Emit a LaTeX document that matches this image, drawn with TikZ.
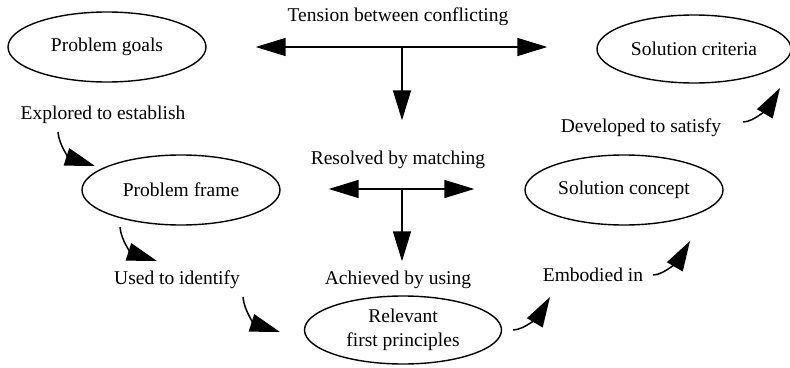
\documentclass[tikz,border=0pt]{standalone}
\usepackage{fontspec}
\setmainfont{Liberation Serif}
\usetikzlibrary{arrows.meta,shapes.geometric}
\begin{document}
\begin{tikzpicture}[x=1pt,y=-1pt,
  font=\fontsize{19.5}{23.5}\selectfont,
  oval/.style={draw, ellipse, line width=1.4pt, inner sep=0pt,
    minimum width=198pt, minimum height=70pt, align=center},
  lbl/.style={inner sep=0pt, text height=13pt, text depth=4pt},
  link/.style={line width=1.5pt, -{Triangle[length=30pt,width=18pt]}},
]
\useasboundingbox (0,0) rectangle (790,367);

% ellipses
\node[oval] (goals) at (107,47) {Problem goals};
\node[oval, minimum width=194pt, minimum height=68pt] (criteria) at (694,49) {Solution criteria};
\node[oval] (frame) at (181,190) {Problem frame};
\node[oval] (concept) at (624,190) {Solution concept};
\node[oval, minimum width=197pt, minimum height=68pt] (principles) at (403,330)
  {Relevant\\first principles};

% labels
\node[lbl] (tension) at (398,17) {Tension between conflicting};
\node[lbl] (resolved) at (398,160) {Resolved by matching};
\node[lbl] (achieved) at (398,280) {Achieved by using};
\node[lbl] (explored) at (103,115) {Explored to establish};
\node[lbl] (used) at (177,280) {Used to identify};
\node[lbl] (embodied) at (593,277) {Embodied in};
\node[lbl] (developed) at (641,128) {Developed to satisfy};

% junctions of the straight arrows
\coordinate (hubtop) at (402,47);
\coordinate (hubmid) at (402,189);

\draw[link, shorten >=49pt] (hubtop) -- (hubtop -| goals.east);
\draw[link, shorten >=49pt] (hubtop) -- (hubtop -| criteria.west);
\draw[link, shorten >=31pt] (hubtop) -- (hubtop |- resolved.north);

\draw[link, shorten >=48pt] (hubmid) -- (hubmid -| frame.east);
\draw[link, shorten >=50pt] (hubmid) -- (hubmid -| concept.west);
\draw[link, shorten >=10pt] (hubmid) -- (hubmid |- achieved.north);

% curved arrows
\coordinate (e1s) at (58,132);  \coordinate (e1t) at (95,166);
\coordinate (e2s) at (120,227); \coordinate (e2t) at (157,261);
\coordinate (e3s) at (243,297); \coordinate (e3t) at (280,332);
\coordinate (e4s) at (513,330); \coordinate (e4t) at (550,297);
\coordinate (e5s) at (653,275); \coordinate (e5t) at (690,241);
\coordinate (e6s) at (743,122); \coordinate (e6t) at (780,88);

\draw[link] (e1s) .. controls +(1,14) and +(-25,-8) .. (e1t);
\draw[link] (e2s) .. controls +(1,14) and +(-25,-8) .. (e2t);
\draw[link] (e3s) .. controls +(1,14) and +(-25,-8) .. (e3t);
\draw[link] (e4s) .. controls +(12,0) and +(-10,17) .. (e4t);
\draw[link] (e5s) .. controls +(12,0) and +(-10,17) .. (e5t);
\draw[link] (e6s) .. controls +(12,0) and +(-10,17) .. (e6t);
\end{tikzpicture}
\end{document}
